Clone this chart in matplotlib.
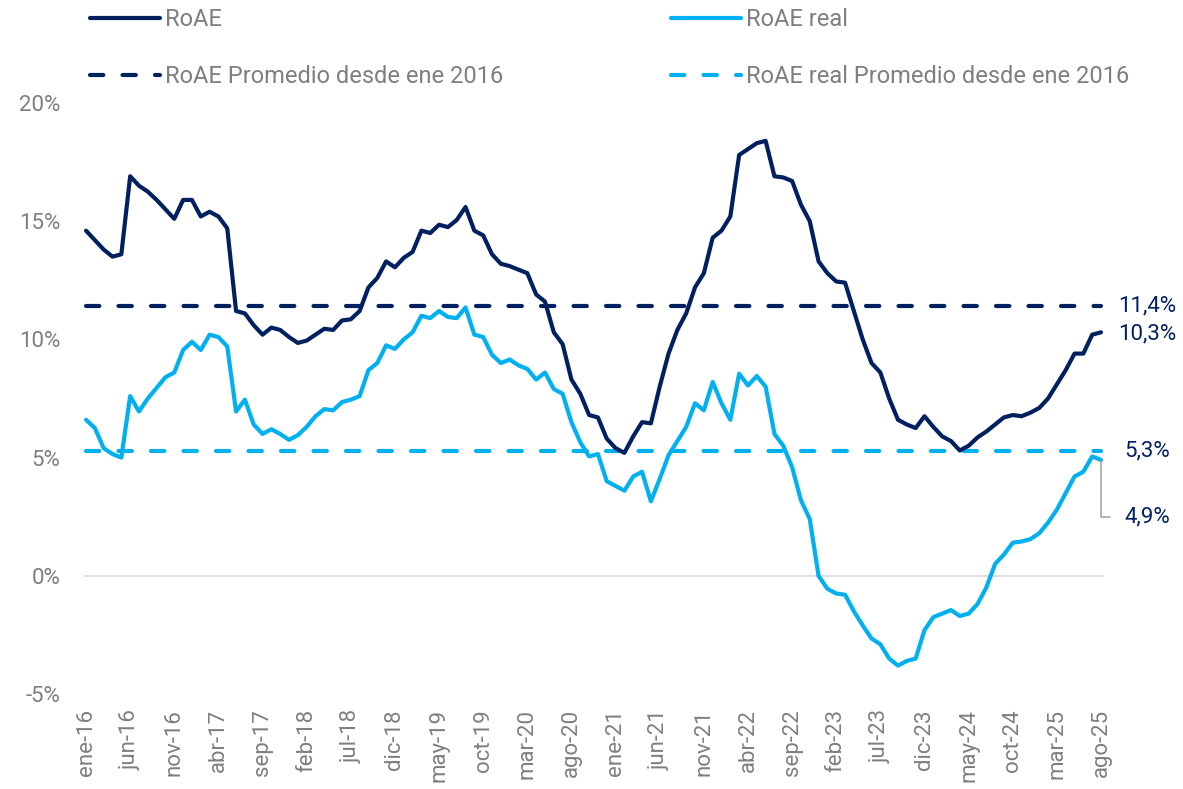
import matplotlib
matplotlib.use("Agg")
import matplotlib.pyplot as plt
from matplotlib.ticker import FuncFormatter

# Monthly bank RoAE series, Jan 2016 - Aug 2025 (% values)
roae = [14.6, 14.2, 13.8, 13.5, 13.6, 16.9, 16.5, 16.25, 15.9, 15.5,
        15.1, 15.9, 15.9, 15.2, 15.4, 15.2, 14.7, 11.2, 11.1, 10.6,
        10.2, 10.5, 10.4, 10.1, 9.85, 9.95, 10.2, 10.45, 10.4, 10.8,
        10.85, 11.2, 12.2, 12.6, 13.3, 13.05, 13.45, 13.7, 14.6, 14.5,
        14.85, 14.75, 15.05, 15.6, 14.6, 14.4, 13.6, 13.2, 13.1, 12.95,
        12.8, 11.9, 11.6, 10.3, 9.8, 8.3, 7.7, 6.8, 6.7, 5.8,
        5.4, 5.2, 5.9, 6.5, 6.45, 8.0, 9.4, 10.4, 11.1, 12.2,
        12.8, 14.3, 14.6, 15.2, 17.8, 18.05, 18.3, 18.4, 16.9, 16.85,
        16.7, 15.7, 15.0, 13.3, 12.8, 12.45, 12.4, 11.2, 10.0, 9.0,
        8.6, 7.5, 6.6, 6.4, 6.25, 6.75, 6.3, 5.9, 5.7, 5.3,
        5.5, 5.85, 6.1, 6.4, 6.7, 6.8, 6.75, 6.9, 7.1, 7.5,
        8.1, 8.7, 9.4, 9.4, 10.2, 10.3]

roae_real = [6.6, 6.25, 5.4, 5.15, 5.0, 7.6, 6.95, 7.5, 7.95, 8.4,
             8.6, 9.55, 9.9, 9.55, 10.2, 10.1, 9.7, 6.95, 7.45, 6.4,
             6.0, 6.2, 6.0, 5.75, 5.95, 6.3, 6.75, 7.05, 7.0, 7.35,
             7.45, 7.6, 8.7, 9.0, 9.75, 9.6, 10.0, 10.3, 11.0, 10.9,
             11.2, 10.95, 10.9, 11.35, 10.2, 10.1, 9.35, 9.0, 9.15, 8.9,
             8.75, 8.3, 8.6, 7.9, 7.7, 6.5, 5.65, 5.05, 5.15, 4.0,
             3.8, 3.6, 4.2, 4.4, 3.15, 4.1, 5.1, 5.7, 6.3, 7.3,
             7.0, 8.2, 7.3, 6.6, 8.55, 8.05, 8.45, 8.0, 6.0, 5.5,
             4.6, 3.2, 2.4, 0.0, -0.55, -0.75, -0.8, -1.5, -2.1, -2.65,
             -2.9, -3.5, -3.8, -3.6, -3.5, -2.3, -1.75, -1.6, -1.45, -1.7,
             -1.6, -1.2, -0.5, 0.5, 0.9, 1.4, 1.45, 1.55, 1.8, 2.25,
             2.8, 3.5, 4.2, 4.4, 5.05, 4.9]

roae_avg = 11.4
roae_real_avg = 5.3

tick_labels = ["ene-16", "jun-16", "nov-16", "abr-17", "sep-17", "feb-18",
               "jul-18", "dic-18", "may-19", "oct-19", "mar-20", "ago-20",
               "ene-21", "jun-21", "nov-21", "abr-22", "sep-22", "feb-23",
               "jul-23", "dic-23", "may-24", "oct-24", "mar-25", "ago-25"]
tick_step = 5

DARK = "#002060"
LIGHT = "#00B0F0"
GREY = "#7F7F7F"

plt.rcParams["font.family"] = ["Roboto", "DejaVu Sans"]

W, H, DPI = 1183, 789, 100
fig = plt.figure(figsize=(W / DPI, H / DPI), dpi=DPI)
ax = fig.add_axes([84 / W, 1 - 694 / H, (1104 - 84) / W, (694 - 103) / H])

n = len(roae)
x = list(range(n))

ax.axhline(0, color="#D9D9D9", lw=1.2, zorder=1)

dash = (0, (3.2, 4.6))
l1, = ax.plot(x, roae, color=DARK, lw=3, solid_joinstyle="round",
              solid_capstyle="round", zorder=3, label="RoAE")
l2, = ax.plot(x, roae_real, color=LIGHT, lw=3, solid_joinstyle="round",
              solid_capstyle="round", zorder=3, label="RoAE real")
l3, = ax.plot([x[0], x[-1]], [roae_avg, roae_avg], color=DARK, lw=3,
              linestyle=dash, dash_capstyle="round", zorder=2,
              label="RoAE Promedio desde ene 2016")
l4, = ax.plot([x[0], x[-1]], [roae_real_avg, roae_real_avg], color=LIGHT,
              lw=3, linestyle=dash, dash_capstyle="round", zorder=2,
              label="RoAE real Promedio desde ene 2016")

ax.set_xlim(-0.23, 115.34)
ax.set_ylim(-5, 20)
ax.set_yticks([-5, 0, 5, 10, 15, 20])
ax.yaxis.set_major_formatter(FuncFormatter(lambda v, p: f"{v:.0f}%"))
ax.set_xticks(range(0, n, tick_step))
ax.set_xticklabels(tick_labels, rotation=90)
ax.tick_params(axis="both", length=0, labelsize=16, labelcolor=GREY)
ax.tick_params(axis="y", pad=17)
ax.tick_params(axis="x", pad=11)
for s in ax.spines.values():
    s.set_visible(False)

# End-of-series value labels
def fmt(v):
    return f"{v:.1f}%".replace(".", ",")

last = x[-1]
lab = dict(textcoords="offset pixels", va="center", ha="left",
           fontsize=16, color=DARK, annotation_clip=False)
ax.annotate(fmt(roae_avg), xy=(last, roae_avg), xytext=(17, 0), **lab)
ax.annotate(fmt(roae[-1]), xy=(last, roae[-1]), xytext=(17, -2), **lab)
ax.annotate(fmt(roae_real_avg), xy=(last, roae_real_avg), xytext=(23, 0), **lab)
ax.annotate(fmt(roae_real[-1]), xy=(last, roae_real[-1]), xytext=(23, -57),
            arrowprops=dict(arrowstyle="-", color="#A6A6A6", lw=1.2,
                            connectionstyle="angle,angleA=0,angleB=90,rad=0",
                            shrinkA=8, shrinkB=1),
            **lab)

fig.legend(handles=[l1, l3, l2, l4], ncol=2, loc="upper left",
           bbox_to_anchor=(90 / W, 1 - 8 / H), frameon=False,
           fontsize=17, labelcolor=GREY, handlelength=2.97,
           handletextpad=0.21, columnspacing=7.1, labelspacing=1.43,
           borderpad=0, borderaxespad=0)

fig.savefig("out.png", dpi=DPI)
